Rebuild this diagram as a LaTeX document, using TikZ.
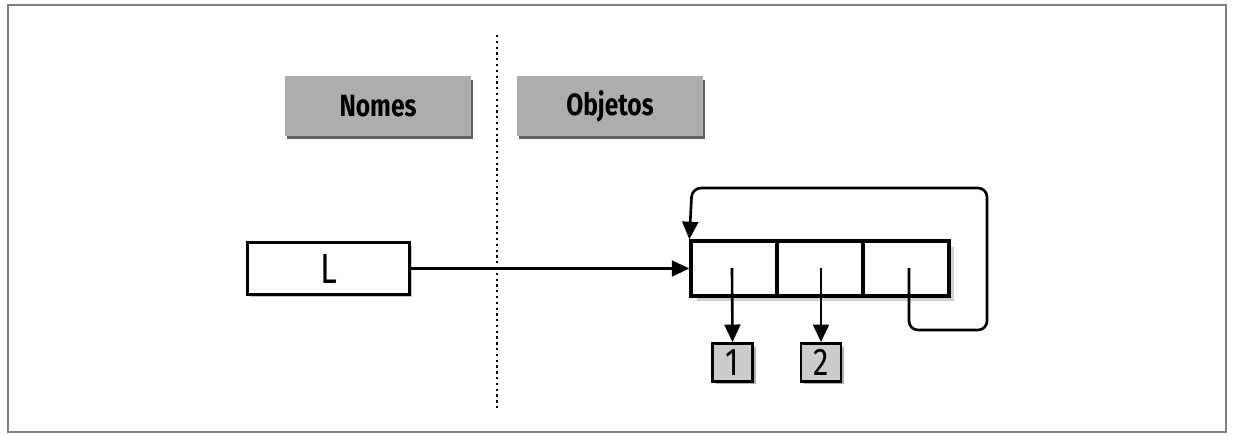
\documentclass[tikz,border=0pt]{standalone}
\usepackage{fontspec}
\newfontfamily\labfont[FakeStretch=0.8]{Fira Sans}
\usetikzlibrary{arrows.meta,shadows}
\begin{document}
\begin{tikzpicture}[x=0.02cm,y=-0.02cm,
  hdr/.style={fill=black!32, draw=none, minimum width=3.74cm, minimum height=1.2cm,
    drop shadow={shadow xshift=0.04cm, shadow yshift=-0.07cm, fill=black!62, opacity=1},
    font=\labfont\bfseries\fontsize{17.5}{19}\selectfont},
  namebox/.style={draw, line width=1.9pt, fill=white, minimum width=3.24cm, minimum height=1.04cm,
    drop shadow={shadow xshift=0.05cm, shadow yshift=-0.06cm, fill=black!22, opacity=1},
    font=\labfont\fontsize{24}{26}\selectfont},
  cell/.style={draw, line width=1.9pt, fill=white, minimum width=1.72cm, minimum height=1.1cm,
    inner sep=0pt},
  val/.style={draw, line width=1.6pt, fill=black!20, minimum width=0.8cm, minimum height=0.76cm,
    inner sep=0pt,
    drop shadow={shadow xshift=0.06cm, shadow yshift=-0.06cm, fill=black!30, opacity=1},
    font=\labfont\fontsize{22}{24}\selectfont},
  tip/.style={-{Triangle[length=10pt,width=9pt]}},
  link/.style={line width=1.5pt, tip}
]
\useasboundingbox (0,0) rectangle (1233,435);
% frame
\draw[black!50, line width=1pt] (8,5) rectangle (1226,432);
% divider
\coordinate (dtop) at (497,35);
\coordinate (dbot) at (497,410);
\draw[line width=1.3pt, dotted] (dtop) -- (dbot);
% headers
\node[hdr] (nomes) at (378,106) {Nomes};
\node[hdr] (objetos) at (610,106) {Objetos};
% name L
\node[namebox] (L) at (328.5,268.5) {L};
% list cells
\fill[black!18] (697,247) rectangle (954,301);
\node[cell] (c1) at (734,268.5) {};
\node[cell] (c2) at (820,268.5) {};
\node[cell] (c3) at (906,268.5) {};
% values
\node[val] (v1) at (732.5,362.5) {1};
\node[val] (v2) at (821,362.5) {2};
% arrows
\draw[link] (L.east) -- (c1.west);
\draw[link] (732,268) -- (v1.north);
\draw[link] (821,268) -- (v2.north);
\draw[link, rounded corners=0.18cm]
  (909,268) -- (909,330) -- (987,330) -- (987,188) -- (692,188) -- (c1.north west);
\end{tikzpicture}
\end{document}
